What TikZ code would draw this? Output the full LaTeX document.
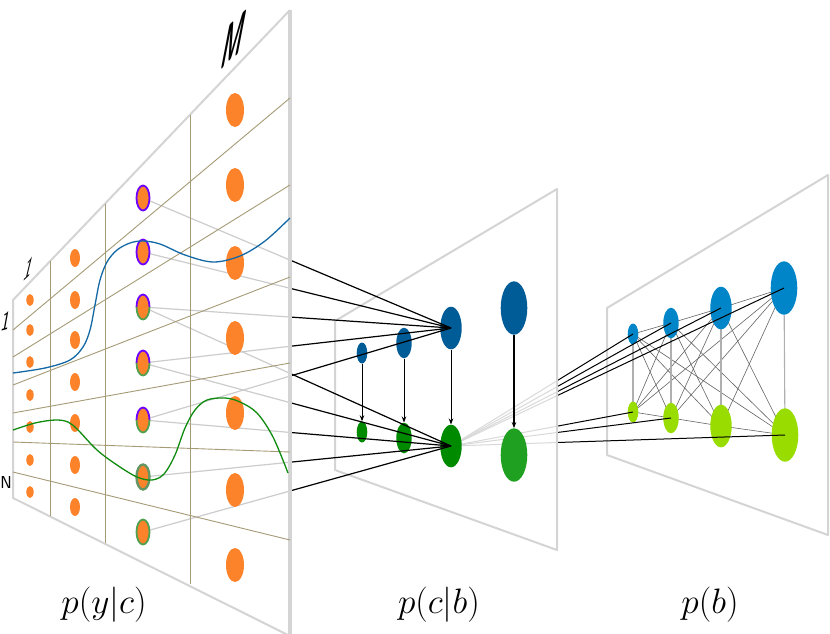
\documentclass[tikz,border=0pt]{standalone}
\usetikzlibrary{shapes.geometric,arrows.meta}
\definecolor{framec}{RGB}{212,212,212}
\definecolor{gridc}{RGB}{165,155,118}
\definecolor{orangec}{RGB}{253,131,43}
\definecolor{purplec}{RGB}{110,0,255}
\definecolor{gbord}{RGB}{80,160,80}
\definecolor{gbordb}{RGB}{100,150,100}
\definecolor{bluecurve}{RGB}{20,105,165}
\definecolor{greencurve}{RGB}{15,140,15}
\definecolor{mblue}{RGB}{0,92,150}
\definecolor{mgreen}{RGB}{0,138,0}
\definecolor{mgreenxl}{RGB}{32,160,32}
\definecolor{rblue}{RGB}{0,134,200}
\definecolor{rgreen}{RGB}{153,221,0}
\definecolor{edgec}{RGB}{100,100,100}
\definecolor{vedgec}{RGB}{175,175,175}
\begin{document}
\begin{tikzpicture}[x=1pt,y=-1pt,
  frame/.style={draw=framec,line width=2pt,line join=round},
  framethick/.style={draw=framec,line width=3.5pt},
  gridl/.style={draw=gridc,line width=0.9pt},
  odot/.style={ellipse,fill=orangec,inner sep=0pt,draw=none},
  elln/.style={ellipse,inner sep=0pt,draw=none},
  sza/.style={minimum width=10.6pt,minimum height=21pt},
  szb/.style={minimum width=15.4pt,minimum height=30.6pt},
  szc/.style={minimum width=21.4pt,minimum height=42.6pt},
  szd/.style={minimum width=26.6pt,minimum height=53.4pt},
  blk/.style={draw=black,line width=1.2pt},
  blkt/.style={draw=black,line width=1pt},
  xedge/.style={draw=edgec,line width=0.6pt},
  vedge/.style={draw=vedgec,line width=1.1pt},
  arr/.style={draw=black,line width=0.9pt,-{Stealth[length=6pt,width=4.5pt]}},
  bord/.style={line width=1.8pt},
  lbl/.style={font=\Huge,inner sep=0pt,scale=1.42}]
\path[use as bounding box] (0,0) rectangle (830,633);
\clip (0,0) rectangle (830,633);

% panel corners
\coordinate (RA) at (607,308); \coordinate (RB) at (828,175);
\coordinate (RC) at (828,535); \coordinate (RD) at (607,455);
\coordinate (MA) at (335,321); \coordinate (MB) at (557,189);
\coordinate (MC) at (557,550); \coordinate (MD) at (335,470);
\coordinate (LA) at (13,300);  \coordinate (LB) at (290,10);
\coordinate (LC) at (290,636); \coordinate (LD) at (13,498);

% node centres
\coordinate (rb1) at (633,334); \coordinate (rb2) at (671,323);
\coordinate (rb3) at (721,308); \coordinate (rb4) at (784,288);
\coordinate (rg1) at (633,412); \coordinate (rg2) at (671,418);
\coordinate (rg3) at (721,426); \coordinate (rg4) at (785,435);
\coordinate (mb1) at (362,353); \coordinate (mb2) at (404,343);
\coordinate (mb3) at (451,328); \coordinate (mb4) at (514,308);
\coordinate (mg1) at (362,432); \coordinate (mg2) at (404,438);
\coordinate (mg3) at (451,446); \coordinate (mg4) at (514,455);
\coordinate (d1) at (143,198); \coordinate (d2) at (143,252);
\coordinate (d3) at (143,307); \coordinate (d4) at (143,363);
\coordinate (d5) at (143,420); \coordinate (d6) at (143,477);
\coordinate (d7) at (143,532);

% ---------- right panel ----------
\draw[frame] (RA)--(RB)--(RC)--(RD)--cycle;
\foreach \i in {1,...,4}{\foreach \j in {1,...,4}{\ifnum\i=\j\relax\else\draw[xedge] (rb\i)--(rg\j);\fi}}
\foreach \i in {1,...,4}{\draw[vedge] (rb\i)--(rg\i);}
\draw[xedge] (rb1)--(rb2)--(rb3)--(rb4);
\draw[xedge] (rg1)--(rg2)--(rg3)--(rg4);
\foreach \k/\sz in {1/sza,2/szb,3/szc,4/szd}{
  \node[elln,\sz,fill=rblue] (rbe\k) at (rb\k) {};
  \node[elln,\sz,fill=rgreen] (rge\k) at (rg\k) {};
}
% middle -> right
\foreach \t in {rb1,rb2,rb3,rb4,rg1,rg2,rg4}{\draw[blkt] (mg3)--(\t);}

% ---------- middle panel ----------
\fill[white,opacity=0.85] (MA)--(MB)--(MC)--(MD)--cycle;
\draw[frame] (MA)--(MB)--(MC)--(MD)--cycle;
\foreach \k/\sz in {1/sza,2/szb,3/szc}{
  \node[elln,\sz,fill=mblue] (mbe\k) at (mb\k) {};
  \node[elln,\sz,fill=mgreen] (mge\k) at (mg\k) {};
  \draw[arr] (mbe\k.south)--(mge\k.north);
}
\node[elln,szd,fill=mblue] (mbe4) at (mb4) {};
\node[elln,szd,fill=mgreenxl] (mge4) at (mg4) {};
\draw[arr,line width=1.2pt] (mbe4.south)--(mge4.north);

% left -> middle
\foreach \n in {1,...,5}{\draw[blk] (d\n)--(mb3);}
\foreach \n in {3,...,7}{\draw[blk] (d\n)--(mg3);}

% ---------- left panel ----------
\fill[white,opacity=0.8] (LA)--(LB)--(LC)--(LD)--cycle;
\draw[frame] (LB)--(LA)--(LD)--(LC);
\draw[framethick] (LB)--(LC);
% grid
\draw[gridl] (50,261.3)--(50,516);
\draw[gridl] (105,203.7)--(105,542.8);
\draw[gridl] (190,114.7)--(190,584.3);
\draw[gridl] (13,330)--(290,98);
\draw[gridl] (13,357)--(290,185);
\draw[gridl] (13,385)--(290,277);
\draw[gridl] (13,413)--(290,363);
\draw[gridl] (13,442)--(290,452);
\draw[gridl] (13,472)--(290,540);
% dots
\foreach \y in {300,330,362,395,427,460,492}{\node[odot,minimum width=7.4pt,minimum height=12pt] (ca\y) at (30,\y) {};}
\foreach \y in {258,300,340,382,423,465,507}{\node[odot,minimum width=10pt,minimum height=18pt] (cb\y) at (75,\y) {};}
\foreach \y in {110,185,263,338,413,490,565}{\node[odot,minimum width=18pt,minimum height=34pt] (cd\y) at (235,\y) {};}
\foreach \n in {1,...,7}{\node[odot,minimum width=13pt,minimum height=25pt] (cc\n) at (d\n) {};}
\foreach \n in {1,2}{\draw[purplec,bord] (d\n) ellipse[x radius=6.5pt,y radius=12.5pt];}
\foreach \n in {3,4,5}{
  \draw[purplec,bord] ([xshift=6.5pt]d\n) arc[start angle=0,end angle=180,x radius=6.5pt,y radius=12.5pt];
  \draw[gbord,bord] ([xshift=-6.5pt]d\n) arc[start angle=180,end angle=360,x radius=6.5pt,y radius=12.5pt];
}
\draw[gbordb,line width=2.4pt] (d6) ellipse[x radius=6.5pt,y radius=12.5pt];
\draw[gbord,bord] (d7) ellipse[x radius=6.5pt,y radius=12.5pt];
% curves
\draw[bluecurve,line width=1.3pt] plot[smooth,tension=0.55] coordinates {(13,373) (45,368) (70,360) (83,347) (90,330) (95,305) (100,280) (107,262) (117,250) (130,243) (143,241) (160,244) (185,255) (213,262) (240,256) (265,241) (290,218)};
\draw[greencurve,line width=1.3pt] plot[smooth,tension=0.55] coordinates {(13,430) (35,423) (55,420) (68,422) (78,430) (97,450) (117,465) (137,477) (152,480) (164,474) (175,455) (185,428) (195,410) (207,400) (225,398) (240,402) (257,413) (273,437) (288,473)};

% labels
\node[font=\Huge\sffamily\bfseries,cm={0.85,0.78,0.5,2.6,(0,0)},inner sep=0pt] (lm) at (234,40) {M};
\node[font=\Huge\sffamily,cm={0.7,0.65,0.3,1.25,(0,0)},inner sep=0pt] (lone) at (29,268) {1};
\node[font=\Huge\sffamily,cm={0.7,0.2,0.2,1.1,(0,0)},inner sep=0pt] (ltwo) at (6,321) {1};
\node[font=\LARGE\sffamily,inner sep=0pt] (ln) at (6,482) {N};
\node[lbl] (t1) at (104,605) {$p(y|c)$};
\node[lbl] (t2) at (439,605) {$p(c|b)$};
\node[lbl] (t3) at (710,605) {$p(b)$};
\end{tikzpicture}
\end{document}
